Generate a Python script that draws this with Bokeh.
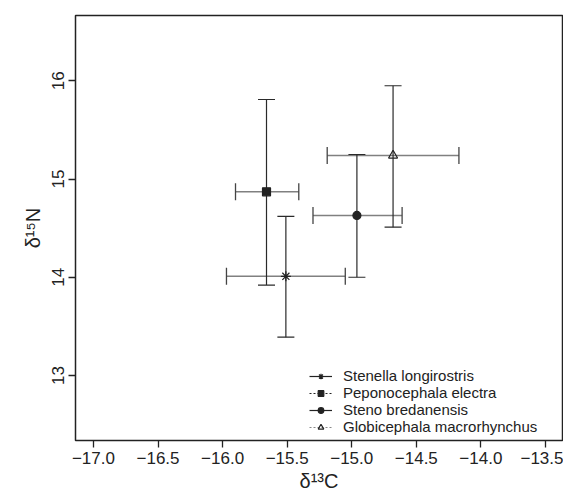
from bokeh.plotting import figure
from bokeh.models import (Whisker, TeeHead, ColumnDataSource, Legend, LegendItem,
                          FixedTicker, Range1d)
from bokeh.embed import file_html
from bokeh.resources import INLINE

# ---- data ----
species = ["Stenella longirostris", "Peponocephala electra",
           "Steno bredanensis", "Globicephala macrorhynchus"]
d13c_mean = [-15.51, -15.66, -14.96, -14.68]
d13c_lo = [-15.97, -15.90, -15.30, -15.19]
d13c_hi = [-15.05, -15.41, -14.61, -14.17]
d15n_mean = [14.01, 14.87, 14.63, 15.24]
d15n_lo = [13.39, 13.92, 14.00, 14.51]
d15n_hi = [14.62, 15.81, 15.25, 15.95]

x_ticks = [-17.0, -16.5, -16.0, -15.5, -15.0, -14.5, -14.0, -13.5]
x_tick_labels = ["\u221217.0", "\u221216.5", "\u221216.0", "\u221215.5",
                 "\u221215.0", "\u221214.5", "\u221214.0", "\u221213.5"]
y_ticks = [13, 14, 15, 16]
y_tick_labels = ["13", "14", "15", "16"]

markers = ["asterisk", "square", "circle", "triangle"]
marker_fill = ["#222222", "#222222", "#222222", None]
marker_size = [10, 8, 8, 9]
legend_dash = ["solid", "2 2", "solid", "2 2"]
legend_line_color = ["#222222", "#222222", "#222222", "#888888"]
legend_row_bottom = [56, 39, 22, 5]   # layout: px above the frame bottom

FONT = "Liberation Sans"
TXT = "#222222"

p = figure(width=563, height=495,
           x_range=Range1d(-17.139, -13.368), y_range=Range1d(12.338, 16.665),
           output_backend="svg", toolbar_location=None,
           min_border_left=75, min_border_top=15, min_border_right=1,
           min_border_bottom=55)

p.xgrid.visible = False
p.ygrid.visible = False
p.outline_line_color = "#222222"
p.outline_line_width = 1.5
p.background_fill_color = "white"
p.border_fill_color = "white"

src = ColumnDataSource(dict(x=d13c_mean, y=d15n_mean, xlo=d13c_lo, xhi=d13c_hi,
                            ylo=d15n_lo, yhi=d15n_hi))

hw = Whisker(source=src, base="y", lower="xlo", upper="xhi", dimension="width",
             line_color="#808080", line_width=1.5,
             lower_head=TeeHead(size=17, line_color="#444444", line_width=1.3),
             upper_head=TeeHead(size=17, line_color="#444444", line_width=1.3))
vw = Whisker(source=src, base="x", lower="ylo", upper="yhi", dimension="height",
             line_color="#2a2a2a", line_width=1.2,
             lower_head=TeeHead(size=17, line_color="#2a2a2a", line_width=1.2),
             upper_head=TeeHead(size=17, line_color="#2a2a2a", line_width=1.2))
p.add_layout(hw)
p.add_layout(vw)

for i, name in enumerate(species):
    lr = p.line(x=[d13c_mean[i]], y=[d15n_mean[i]], line_color=legend_line_color[i],
                line_width=1.2, line_dash=legend_dash[i])
    sr = p.scatter(x=[d13c_mean[i]], y=[d15n_mean[i]], marker=markers[i],
                   size=marker_size[i], line_color="#222222", line_width=1.2,
                   fill_color=marker_fill[i] if marker_fill[i] else "white",
                   fill_alpha=1.0 if marker_fill[i] else 0.0)
    leg = Legend(items=[LegendItem(label=name, renderers=[lr, sr])],
                 location=(234, legend_row_bottom[i]), padding=0, margin=0,
                 spacing=0, glyph_width=23, glyph_height=14, label_height=14,
                 label_standoff=11, border_line_color=None,
                 background_fill_alpha=0.0,
                 label_text_font=FONT, label_text_font_size="15px",
                 label_text_color=TXT)
    p.add_layout(leg)

# axes
for ax in (p.xaxis[0], p.yaxis[0]):
    ax.axis_line_color = None
    ax.major_tick_in = 0
    ax.major_tick_out = 7
    ax.major_tick_line_color = "#222222"
    ax.major_tick_line_width = 1.3
    ax.minor_tick_line_color = None
    ax.major_label_text_font = FONT
    ax.major_label_text_font_size = "17px"
    ax.major_label_text_color = TXT
    ax.axis_label_text_font = FONT
    ax.axis_label_text_font_size = "20px"
    ax.axis_label_text_font_style = "normal"
    ax.axis_label_text_color = TXT

p.xaxis.ticker = FixedTicker(ticks=x_ticks)
p.xaxis.major_label_overrides = dict(zip(x_ticks, x_tick_labels))
p.xaxis.major_label_standoff = 4
p.xaxis.axis_label = "\u03b4\u00b9\u00b3C"
p.xaxis.axis_label_standoff = 3

p.yaxis.ticker = FixedTicker(ticks=y_ticks)
p.yaxis.major_label_overrides = dict(zip(y_ticks, y_tick_labels))
p.yaxis.major_label_orientation = "vertical"
p.yaxis.major_label_standoff = 4
p.yaxis.axis_label = "\u03b4\u00b9\u2075N"
p.yaxis.axis_label_standoff = 6

open("out.html", "w").write(file_html(p, INLINE))
